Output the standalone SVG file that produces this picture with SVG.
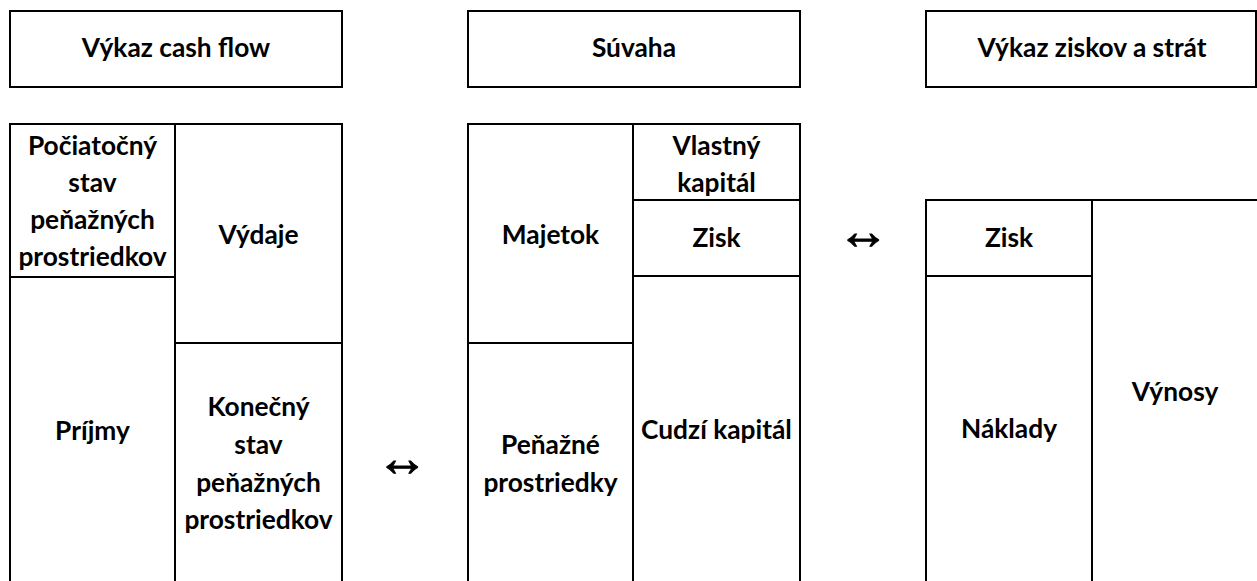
<svg xmlns="http://www.w3.org/2000/svg" width="1257" height="581" viewBox="0 0 1257 581">
<style>
.box{fill:#fff;stroke:#000;stroke-width:2}
.t{font-family:Lato,"Open Sans","Liberation Sans",sans-serif;font-weight:bold;font-size:26.3px;fill:#000;text-anchor:middle}
.arr{font-family:"Liberation Sans","DejaVu Sans",sans-serif;font-weight:bold;font-size:52px;fill:#000;stroke:#000;stroke-width:1;text-anchor:middle}
</style>
<rect width="1257" height="581" fill="#fff"/>
<g id="title-cashflow"><rect class="box" x="10" y="11" width="332" height="76"/><text class="t" x="176" y="57">Výkaz cash flow</text></g>
<g id="title-suvaha"><rect class="box" x="468" y="11" width="332" height="76"/><text class="t" x="634" y="57">Súvaha</text></g>
<g id="title-vzs"><rect class="box" x="926" y="11" width="330" height="76"/><text class="t" x="1092" y="57">Výkaz ziskov a strát</text></g>

<g id="cf-pociatocny"><rect class="box" x="10" y="124" width="165" height="153"/><text class="t" x="92.5" y="155">Počiatočný</text><text class="t" x="92.5" y="192">stav</text><text class="t" x="92.5" y="229">peňažných</text><text class="t" x="92.5" y="266">prostriedkov</text></g>
<g id="cf-prijmy"><rect class="box" x="10" y="277" width="165" height="330"/><text class="t" x="92.5" y="440">Príjmy</text></g>
<g id="cf-vydaje"><rect class="box" x="175" y="124" width="167" height="219"/><text class="t" x="258.5" y="244">Výdaje</text></g>
<g id="cf-konecny"><rect class="box" x="175" y="343" width="167" height="264"/><text class="t" x="258.5" y="416">Konečný</text><text class="t" x="258.5" y="454">stav</text><text class="t" x="258.5" y="491.5">peňažných</text><text class="t" x="258.5" y="529">prostriedkov</text></g>

<g id="s-majetok"><rect class="box" x="468" y="124" width="165" height="219"/><text class="t" x="550.5" y="244">Majetok</text></g>
<g id="s-penazne"><rect class="box" x="468" y="343" width="165" height="264"/><text class="t" x="550.5" y="454">Peňažné</text><text class="t" x="550.5" y="491.5">prostriedky</text></g>
<g id="s-vlastny"><rect class="box" x="633" y="124" width="167" height="76"/><text class="t" x="716.5" y="155">Vlastný</text><text class="t" x="716.5" y="192">kapitál</text></g>
<g id="s-zisk"><rect class="box" x="633" y="200" width="167" height="76"/><text class="t" x="716.5" y="246.5">Zisk</text></g>
<g id="s-cudzi"><rect class="box" x="633" y="276" width="167" height="331"/><text class="t" x="716.5" y="439">Cudzí kapitál</text></g>

<g id="v-zisk"><rect class="box" x="926" y="200" width="166" height="76"/><text class="t" x="1009" y="246.5">Zisk</text></g>
<g id="v-naklady"><rect class="box" x="926" y="276" width="166" height="331"/><text class="t" x="1009" y="438">Náklady</text></g>
<g id="v-vynosy"><rect class="box" x="1092" y="200" width="180" height="407"/><text class="t" x="1175" y="400.5">Výnosy</text></g>

<g id="connectors">
<text class="arr" x="402" y="476">↔</text>
<text class="arr" x="863" y="249">↔</text>
</g>
</svg>
